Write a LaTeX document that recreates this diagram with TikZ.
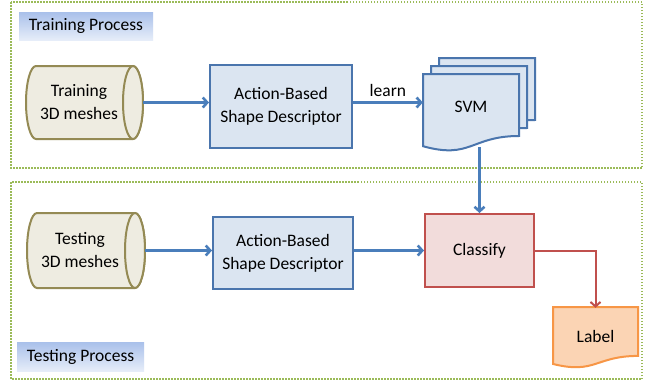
\documentclass[tikz,border=0pt]{standalone}
\usepackage{fontspec}
\setmainfont{Carlito}
\usetikzlibrary{arrows.meta}

\definecolor{frame}{HTML}{9BBB59}
\definecolor{boxfill}{HTML}{DBE5F1}
\definecolor{boxline}{HTML}{4A75AD}
\definecolor{flow}{HTML}{4A7EBB}
\definecolor{cylfill}{HTML}{EEECE1}
\definecolor{cylline}{HTML}{948A54}
\definecolor{clsfill}{HTML}{F2DCDB}
\definecolor{clsline}{HTML}{C0504D}
\definecolor{lblfill}{HTML}{FBD4B4}
\definecolor{lblline}{HTML}{F79646}
\definecolor{tagtop}{HTML}{A9C0EA}
\definecolor{tagbot}{HTML}{E6EDF9}

% Flowchart "document" outline: top-left corner (#1,#2), width #3, full height #4
\newcommand\docshape[5]{%
  \draw[#5] (#1,#2) -- ({#1+#3},#2) -- ({#1+#3},{#2+0.802*#4})
    .. controls ({#1+0.5*#3},{#2+0.802*#4}) and ({#1+0.5*#3},{#2+1.107*#4})
    .. (#1,{#2+0.934*#4}) -- cycle;}

% Horizontal cylinder: body from x=#1 to x=#2, axis at y=#3, half height #4
\newcommand\cylshape[4]{%
  \draw[cylstyle] (#1,{#3-#4}) -- (#2,{#3-#4})
    arc[start angle=-90,end angle=90,x radius=10,y radius=#4]
    -- (#1,{#3+#4})
    arc[start angle=90,end angle=270,x radius=10,y radius=#4] -- cycle;
  \draw[cylstyle] (#2,#3) ellipse[x radius=10,y radius=#4];}

\tikzset{
  txt/.style={font=\fontsize{17.5}{23}\selectfont, align=center, inner sep=0pt, text=black},
  region/.style={draw=frame, line width=2pt, dash pattern=on 1.5pt off 1.5pt},
  tag/.style={txt, top color=tagtop, bottom color=tagbot, draw=none},
  procbox/.style={txt, draw=boxline, fill=boxfill, line width=2pt},
  clsbox/.style={txt, draw=clsline, fill=clsfill, line width=2pt},
  cylstyle/.style={draw=cylline, fill=cylfill, line width=2pt},
  svmdoc/.style={draw=boxline, fill=boxfill, line width=2pt},
  lbldoc/.style={draw=lblline, fill=lblfill, line width=2pt},
  flowarr/.style={draw=flow, line width=2.6pt, -{Straight Barb[length=4.5pt,width=10pt]}},
  outarr/.style={draw=clsline, line width=2pt, -{Straight Barb[length=4.5pt,width=10pt]}},
}

\begin{document}
\begin{tikzpicture}[x=1pt,y=-1pt]
\useasboundingbox[fill=white] (0,0) rectangle (648,381);

% the two process regions
\draw[region] (11,2) rectangle (642,168);
\draw[region] (11,182) rectangle (642,379);

% region titles
\node[tag, minimum width=134, minimum height=28] (traintag) at (86,26) {Training Process};
\node[tag, minimum width=127, minimum height=29] (testtag) at (80.5,356.5) {Testing Process};

% input data cylinders
\cylshape{36}{133}{102.5}{36.5}
\node[txt, minimum width=128, minimum height=73] (cyl1) at (79,102.5) {Training\\3D meshes};
\cylshape{37}{135}{250.5}{37.5}
\node[txt, minimum width=130, minimum height=75] (cyl2) at (80,250.5) {Testing\\3D meshes};

% descriptor boxes
\node[procbox, minimum width=142, minimum height=83] (desc1) at (281,106.5) {Action-Based\\Shape Descriptor};
\node[procbox, minimum width=140, minimum height=72] (desc2) at (283,253) {Action-Based\\Shape Descriptor};

% stacked SVM documents
\docshape{439}{58}{96}{77.3}{svmdoc}
\docshape{431}{66}{96}{77.3}{svmdoc}
\docshape{423}{74}{96}{77.3}{svmdoc}
\node[txt, minimum width=96, minimum height=66] (svm) at (471,107) {SVM};

% classifier and output label
\node[clsbox, minimum width=109, minimum height=73] (cls) at (479.5,250.5) {Classify};
\docshape{553}{307}{85}{61}{lbldoc}
\node[txt, minimum width=85, minimum height=56] (lbl) at (595.5,336) {Label};

% connectors
\draw[flowarr] (cyl1.east) -- (cyl1.east -| desc1.west);
\draw[flowarr] (desc1.east |- cyl1.east) -- node[txt, above=5pt] {learn} (cyl1.east -| svm.west);
\draw[flowarr] ([yshift=-7pt]cls.north |- svm.south) -- (cls.north);
\draw[flowarr] (cyl2.east) -- (cyl2.east -| desc2.west);
\draw[flowarr] (desc2.east |- cls.east) -- (cls.west);
\draw[outarr] (cls.east) -| (lbl.north);
\end{tikzpicture}
\end{document}
